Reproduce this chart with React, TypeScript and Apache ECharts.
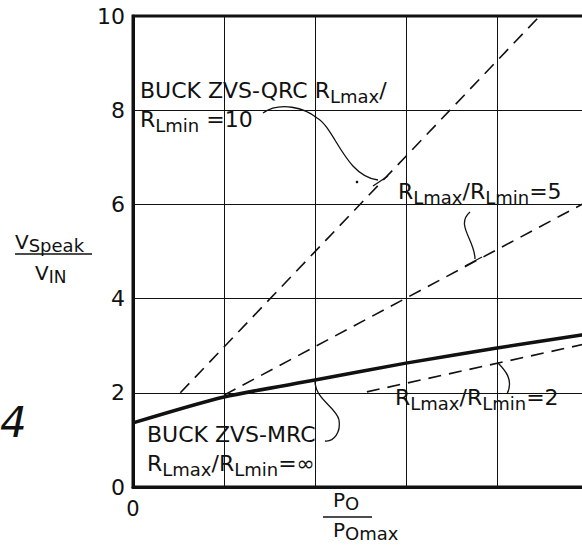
import React, { useEffect, useRef } from "react";
import * as echarts from "echarts";

// x in grid units (P_O / P_Omax divisions), y = V_Speak / V_IN
const mrcX = [0, 1, 2, 3, 4, 5];
const mrcY = [1.36, 1.91, 2.27, 2.63, 2.95, 3.25];
const r10X = [0.52, 4.47];
const r10Y = [2.0, 10.0];
const r5X = [1.0, 5.0];
const r5Y = [1.95, 6.07];
const r2X = [2.57, 5.0];
const r2Y = [2.02, 3.05];
const xTickLabels = ["0"];

const FONT = "DejaVu Sans";
const INK = "#111";

const zip = (xs: number[], ys: number[]) => xs.map((x, i) => [x, ys[i]]);

function rich(lh: number, main: number, sub: number, subLh: number) {
  return {
    m: { fontSize: main, lineHeight: lh, fontFamily: FONT, fill: INK },
    s: { fontSize: sub, lineHeight: subLh, verticalAlign: "bottom", fontFamily: FONT, fill: INK },
  };
}

export default function App() {
  const ref = useRef<HTMLDivElement>(null);
  useEffect(() => {
    if (!ref.current) return;
    const chart = echarts.init(ref.current, null, { renderer: "svg" });
    const dashed = { color: INK, width: 1.6, type: [13, 8] as any };
    const lead = { stroke: INK, lineWidth: 1.3, fill: "none" };
    chart.setOption({
      animation: false,
      backgroundColor: "#fff",
      grid: {
        left: 133,
        top: 16,
        width: 455,
        height: 471,
        show: true,
        borderColor: INK,
        borderWidth: 3,
        backgroundColor: "transparent",
      },
      xAxis: {
        type: "value",
        min: 0,
        max: 5,
        interval: 1,
        axisLine: { show: true, lineStyle: { color: INK, width: 3 } },
        axisTick: { show: false },
        splitLine: { show: true, lineStyle: { color: INK, width: 1 } },
        axisLabel: {
          margin: 11,
          fontSize: 21,
          fontFamily: FONT,
          color: INK,
          formatter: (v: number) => (v === 0 ? xTickLabels[0] : ""),
        },
      },
      yAxis: {
        type: "value",
        min: 0,
        max: 10,
        interval: 2,
        axisLine: { show: true, lineStyle: { color: INK, width: 3 } },
        axisTick: { show: false },
        splitLine: { show: true, lineStyle: { color: INK, width: 1 } },
        axisLabel: { margin: 8, fontSize: 22, fontFamily: FONT, color: INK },
      },
      series: [
        {
          type: "line",
          data: zip(mrcX, mrcY),
          smooth: 0.25,
          symbol: "none",
          lineStyle: { color: INK, width: 3.5 },
          z: 5,
        },
        { type: "line", data: zip(r10X, r10Y), symbol: "none", lineStyle: dashed, z: 4 },
        { type: "line", data: zip(r5X, r5Y), symbol: "none", lineStyle: dashed, z: 4 },
        { type: "line", data: zip(r2X, r2Y), symbol: "none", lineStyle: dashed, z: 4 },
      ],
      graphic: [
        {
          type: "text",
          x: 140,
          y: 76,
          z: 100,
          style: {
            text: "{m|BUCK ZVS-QRC R}{s|Lmax}{m|/}\n{m|R}{s|Lmin}{m| =10}",
            rich: rich(29, 22, 18, 15),
          },
        },
        {
          type: "text",
          x: 398,
          y: 177,
          z: 100,
          style: {
            text: "{m|R}{s|Lmax}{m|/R}{s|Lmin}{m|=5}",
            rich: rich(29, 22, 18, 15),
          },
        },
        {
          type: "text",
          x: 395,
          y: 383,
          z: 100,
          style: {
            text: "{m|R}{s|Lmax}{m|/R}{s|Lmin}{m|=2}",
            rich: rich(29, 22, 18, 15),
          },
        },
        {
          type: "text",
          x: 147,
          y: 420,
          z: 100,
          style: {
            text: "{m|BUCK ZVS-MRC}\n{m|R}{s|Lmax}{m|/R}{s|Lmin}{m|=∞}",
            rich: rich(29, 22, 18, 15),
          },
        },
        // y-axis name
        {
          type: "text",
          x: 15,
          y: 230,
          z: 100,
          style: { text: "{m|V}{s|Speak}", rich: rich(24, 20, 18, 14) },
        },
        { type: "line", z: 100, shape: { x1: 15, y1: 254, x2: 92, y2: 254 }, style: { stroke: INK, lineWidth: 1.5 } },
        {
          type: "text",
          x: 35,
          y: 261,
          z: 100,
          style: { text: "{m|V}{s|IN}", rich: rich(24, 20, 17, 14) },
        },
        // x-axis name
        {
          type: "text",
          x: 333,
          y: 488,
          z: 100,
          style: { text: "{m|P}{s|O}", rich: rich(24, 20, 18, 14) },
        },
        { type: "line", z: 100, shape: { x1: 323, y1: 517, x2: 372, y2: 517 }, style: { stroke: INK, lineWidth: 1.5 } },
        {
          type: "text",
          x: 333,
          y: 518,
          z: 100,
          style: { text: "{m|P}{s|Omax}", rich: rich(24, 20, 18, 14) },
        },
        // figure number fragment
        {
          type: "text",
          x: 0,
          y: 401,
          z: 100,
          style: { text: "4", fontSize: 42, fontStyle: "italic", fontFamily: FONT, fill: INK },
        },
        // leaders
        {
          type: "bezierCurve",
          z: 100,
          shape: { x1: 263, y1: 113, cpx1: 280, cpy1: 101, cpx2: 305, cpy2: 108, x2: 317, y2: 118 },
          style: lead,
        },
        {
          type: "bezierCurve",
          z: 100,
          shape: { x1: 317, y1: 118, cpx1: 335, cpy1: 128, cpx2: 345, cpy2: 176, x2: 378, y2: 180 },
          style: lead,
        },
        { type: "line", z: 100, shape: { x1: 373, y1: 186, x2: 388, y2: 176 }, style: lead },
        { type: "circle", z: 100, shape: { cx: 357, cy: 182, r: 1.3 }, style: { fill: INK } },
        {
          type: "bezierCurve",
          z: 100,
          shape: { x1: 470, y1: 212, cpx1: 455, cpy1: 225, cpx2: 475, cpy2: 240, x2: 475, y2: 259 },
          style: lead,
        },
        { type: "line", z: 100, shape: { x1: 465, y1: 266, x2: 482, y2: 257 }, style: lead },
        {
          type: "bezierCurve",
          z: 100,
          shape: { x1: 507, y1: 394, cpx1: 514, cpy1: 380, cpx2: 505, cpy2: 370, x2: 498, y2: 363 },
          style: lead,
        },
        {
          type: "bezierCurve",
          z: 100,
          shape: { x1: 325, y1: 441, cpx1: 334, cpy1: 442, cpx2: 341, cpy2: 432, x2: 339, y2: 420 },
          style: lead,
        },
        {
          type: "bezierCurve",
          z: 100,
          shape: { x1: 339, y1: 420, cpx1: 337, cpy1: 408, cpx2: 316, cpy2: 400, x2: 315, y2: 382 },
          style: lead,
        },
      ],
    });
    return () => chart.dispose();
  }, []);
  return (
    <div
      ref={ref}
      style={{ position: "fixed", left: 0, top: 0, width: 600, height: 547, background: "#fff" }}
    />
  );
}
